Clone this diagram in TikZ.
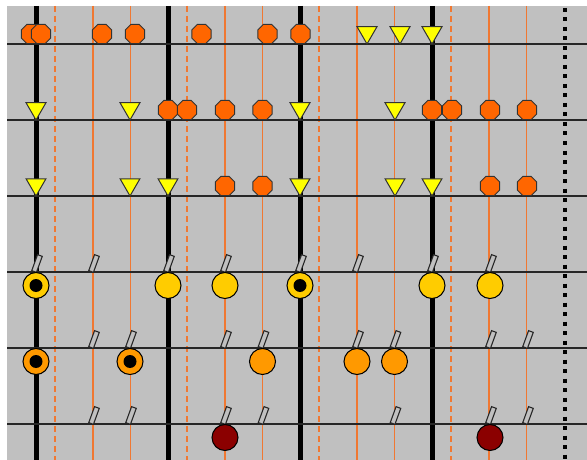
\documentclass[tikz,border=0pt]{standalone}
\usetikzlibrary{shapes.geometric}
\definecolor{bggray}{RGB}{192,192,192}
\definecolor{gridorange}{RGB}{240,120,50}
\definecolor{dotorange}{RGB}{255,102,0}
\definecolor{trifill}{RGB}{255,255,0}
\definecolor{goldfill}{RGB}{255,204,0}
\definecolor{orangefill}{RGB}{255,153,0}
\definecolor{redfill}{RGB}{139,0,0}
\tikzset{
  hline/.style={line width=1.5pt, draw=black!85},
  thickline/.style={line width=5pt, draw=black},
  oline/.style={line width=1.5pt, draw=gridorange},
  dline/.style={line width=2pt, draw=gridorange, dash pattern=on 6pt off 4pt},
  dotline/.style={line width=4pt, draw=black, dash pattern=on 4pt off 5.5pt},
  smallmark/.style={regular polygon, regular polygon sides=8, minimum size=21pt, inner sep=0pt, fill=dotorange, draw=black!80, line width=1pt},
  trimark/.style={regular polygon, regular polygon sides=3, shape border rotate=180, minimum size=23pt, inner sep=0pt, fill=trifill, draw=black!80, line width=1pt},
  bigmark/.style={circle, minimum size=26pt, inner sep=0pt, draw=black, line width=1pt, fill=#1},
  ringmark/.style={circle, minimum size=26pt, inner sep=0pt, draw=black, line width=1pt, fill=#1, path picture={\fill[black] (path picture bounding box.center) circle (6.5pt);}},
  slashmark/.style={rectangle, minimum width=5pt, minimum height=17pt, inner sep=0pt, draw=black!85, line width=1.1pt, fill=bggray, rotate=-20},
}
\begin{document}
\begin{tikzpicture}[x=1pt,y=-1pt]
\fill[white] (0,0) rectangle (587,460);
\fill[bggray] (7,6) rectangle (587,460);
\useasboundingbox (0,0) rectangle (587,460);
% vertical grid
\foreach \x in {36,168,300,432} {
  \draw[dline] (\x+19,6) -- (\x+19,460);
  \draw[oline] (\x+57,6) -- (\x+57,460);
  \draw[oline] (\x+94.5,6) -- (\x+94.5,460);
  \draw[thickline] (\x,6) -- (\x,460);
}
\draw[dotline] (565,8) -- (565,460);
% horizontal grid
\foreach \y in {44,120,196,272,348,424} {
  \draw[hline] (7,\y) -- (587,\y);
}
% row 1
\foreach \x [count=\i] in {31,41,102,135,201.5,267.5,300.5}
  \node[smallmark] (ra\i) at (\x,34) {};
\foreach \x [count=\i] in {367,400,432}
  \node[trimark] (rat\i) at (\x,32.5) {};
% row 2
\foreach \x [count=\i] in {36,130,300,395}
  \node[trimark] (rbt\i) at (\x,108.5) {};
\foreach \x [count=\i] in {168,187,225,262.5,432,452,490,527}
  \node[smallmark] (rb\i) at (\x,110) {};
% row 3
\foreach \x [count=\i] in {36,130,168,300,395,432}
  \node[trimark] (rct\i) at (\x,184.5) {};
\foreach \x [count=\i] in {225,262.5,490,527}
  \node[smallmark] (rc\i) at (\x,186) {};
% row 4
\foreach \x [count=\i] in {36,93,168,225,300,357,432,490}
  \node[slashmark] (rds\i) at (\x+1,263.5) {};
\foreach \x [count=\i] in {36,300}
  \node[ringmark=goldfill] (rdr\i) at (\x,285.5) {};
\foreach \x [count=\i] in {168,225,432,490}
  \node[bigmark=goldfill] (rd\i) at (\x,285.5) {};
% row 5
\foreach \x [count=\i] in {93,130,225,262.5,357,394.5,490,527}
  \node[slashmark] (res\i) at (\x+1,339.5) {};
\foreach \x [count=\i] in {36,130}
  \node[ringmark=orangefill] (rer\i) at (\x,361.5) {};
\foreach \x [count=\i] in {262.5,357,394.5}
  \node[bigmark=orangefill] (re\i) at (\x,361.5) {};
% row 6
\foreach \x [count=\i] in {93,130,225,262.5,394.5,490,527}
  \node[slashmark] (rfs\i) at (\x+1,415.5) {};
\foreach \x [count=\i] in {225,490}
  \node[bigmark=redfill] (rf\i) at (\x,437.5) {};
\end{tikzpicture}
\end{document}
